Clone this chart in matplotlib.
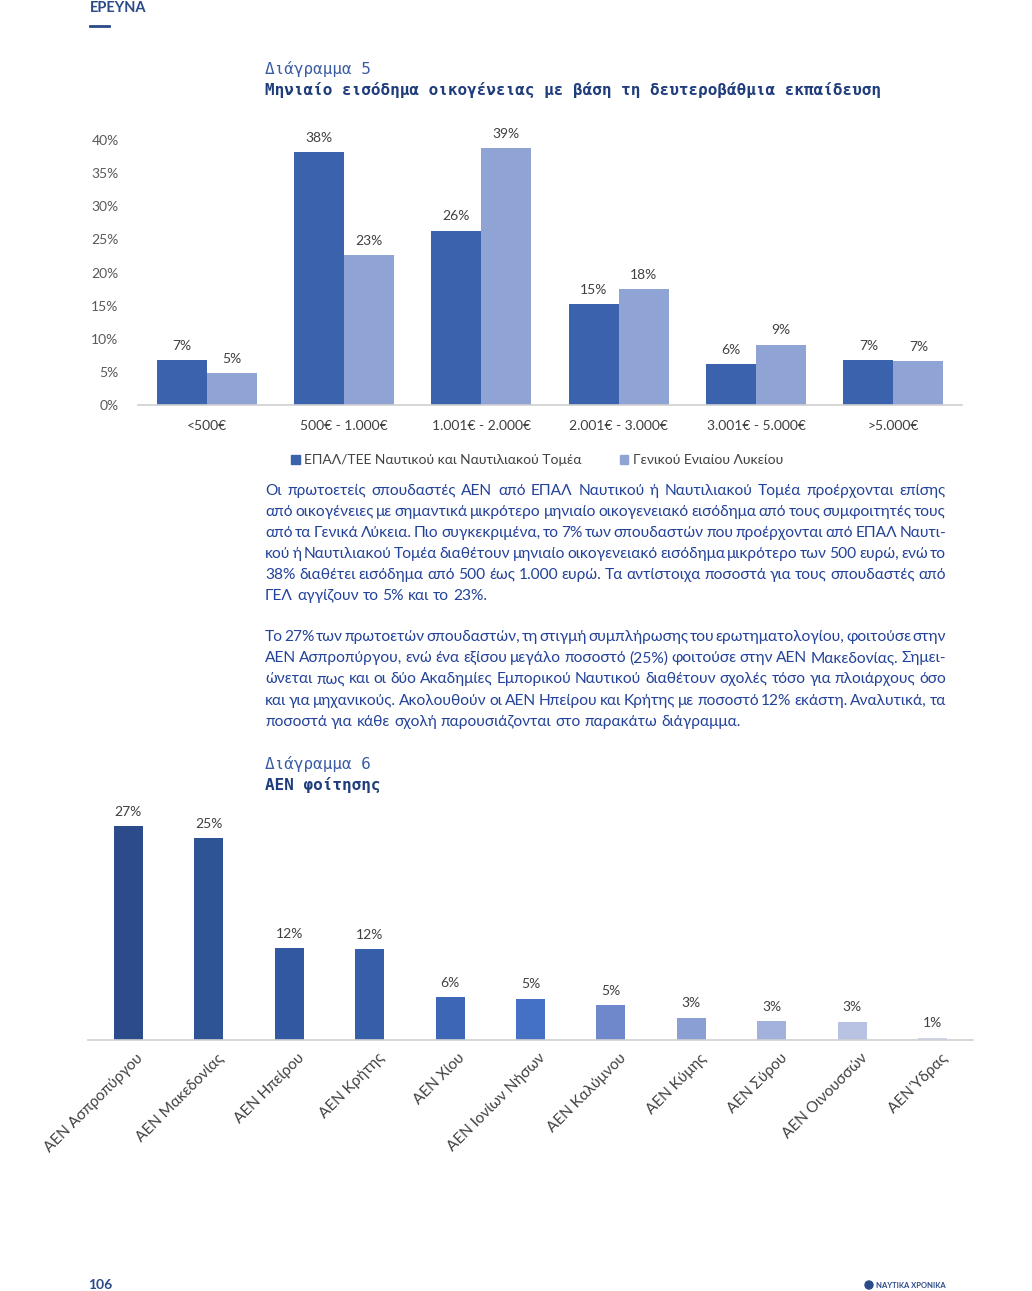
import matplotlib
matplotlib.use('Agg')
import matplotlib.pyplot as plt
from matplotlib.patches import Patch, Circle
from matplotlib.transforms import IdentityTransform
import numpy as np

W, H = 1032, 1291

# --- data: chart 5 (monthly family income by secondary school type)
income_cats = ['<500€', '500€ - 1.000€', '1.001€ - 2.000€', '2.001€ - 3.000€',
               '3.001€ - 5.000€', '>5.000€']
epal = [6.8, 38.2, 26.3, 15.2, 6.2, 6.8]
gel = [4.8, 22.6, 38.8, 17.5, 9.1, 6.6]
epal_labels = ['7%', '38%', '26%', '15%', '6%', '7%']
gel_labels = ['5%', '23%', '39%', '18%', '9%', '7%']
series_names = ['ΕΠΑΛ/ΤΕΕ Ναυτικού και Ναυτιλιακού Τομέα', 'Γενικού Ενιαίου Λυκείου']

# --- data: chart 6 (academy attended)
schools = ['ΑΕΝ Ασπροπύργου', 'ΑΕΝ Μακεδονίας', 'ΑΕΝ Ηπείρου', 'ΑΕΝ Κρήτης', 'ΑΕΝ Χίου',
           'ΑΕΝ Ιονίων Νήσων', 'ΑΕΝ Καλύμνου', 'ΑΕΝ Κύμης', 'ΑΕΝ Σύρου',
           'ΑΕΝ Οινουσσών', 'ΑΕΝ Ύδρας']
school_vals = [27.0, 25.5, 11.6, 11.5, 5.4, 5.2, 4.4, 2.8, 2.4, 2.3, 0.3]
school_labels = ['27%', '25%', '12%', '12%', '6%', '5%', '5%', '3%', '3%', '3%', '1%']
school_colors = ['#2b4b8b', '#2f5496', '#3358a2', '#375ea9', '#3d66b6', '#4471c3',
                 '#6e88cb', '#8a9fd3', '#a2b2dc', '#b8c3e4', '#cdd5ec']

para1 = [
    "Οι πρωτοετείς σπουδαστές ΑΕΝ από ΕΠΑΛ Ναυτικού ή Ναυτιλιακού Τομέα προέρχονται επίσης",
    "από οικογένειες με σημαντικά μικρότερο μηνιαίο οικογενειακό εισόδημα από τους συμφοιτητές τους",
    "από τα Γενικά Λύκεια. Πιο συγκεκριμένα, το 7% των σπουδαστών που προέρχονται από ΕΠΑΛ Ναυτι-",
    "κού ή Ναυτιλιακού Τομέα διαθέτουν μηνιαίο οικογενειακό εισόδημα μικρότερο των 500 ευρώ, ενώ το",
    "38% διαθέτει εισόδημα από 500 έως 1.000 ευρώ. Τα αντίστοιχα ποσοστά για τους σπουδαστές από",
    "ΓΕΛ αγγίζουν το 5% και το 23%.",
]
para2 = [
    "Το 27% των πρωτοετών σπουδαστών, τη στιγμή συμπλήρωσης του ερωτηματολογίου, φοιτούσε στην",
    "ΑΕΝ Ασπροπύργου, ενώ ένα εξίσου μεγάλο ποσοστό (25%) φοιτούσε στην ΑΕΝ Μακεδονίας. Σημει-",
    "ώνεται πως και οι δύο Ακαδημίες Εμπορικού Ναυτικού διαθέτουν σχολές τόσο για πλοιάρχους όσο",
    "και για μηχανικούς. Ακολουθούν οι ΑΕΝ Ηπείρου και Κρήτης με ποσοστό 12% εκάστη. Αναλυτικά, τα",
    "ποσοστά για κάθε σχολή παρουσιάζονται στο παρακάτω διάγραμμα.",
]

SANS = ['Lato', 'DejaVu Sans']
MONO = ['DejaVu Sans Mono']
plt.rcParams['font.family'] = SANS

BLUE_DARK = '#1f3c7c'
BLUE_MID = '#3a5ca3'
TEXT_BLUE = '#23429a'
GRAY = '#404040'
AXIS_GRAY = '#d0d0d0'


def fx(px):
    return px / W


def fy(py):
    return 1 - py / H


fig = plt.figure(figsize=(W / 100, H / 100), dpi=100)

# header / footer
fig.text(fx(90), fy(12), 'ΕΡΕΥΝΑ', fontsize=10.5, fontweight='bold', color='#2a4a8a',
         va='baseline', family=SANS)
fig.add_artist(plt.Line2D([fx(90), fx(109)], [fy(26), fy(26)], color='#2a4a8a', lw=2))
fig.text(fx(88), fy(1285), '106', fontsize=10, fontweight='bold', color='#2a4a8a',
         va='center', family=SANS)
fig.add_artist(Circle((869, H - 1285), 4, color='#2a4a8a', transform=IdentityTransform()))
fig.text(fx(876), fy(1285), 'ΝΑΥΤΙΚΑ ΧΡΟΝΙΚΑ', fontsize=5.5, fontweight='bold',
         color='#2a4a8a', va='center', family=SANS)

# chart titles
fig.text(fx(265), fy(69), 'Διάγραμμα 5', fontsize=11.5, color=BLUE_MID, va='center', family=MONO)
fig.text(fx(265), fy(90), 'Μηνιαίο εισόδημα οικογένειας με βάση τη δευτεροβάθμια εκπαίδευση',
         fontsize=11.5, fontweight='bold', color=BLUE_DARK, va='center', family=MONO)
fig.text(fx(265), fy(764), 'Διάγραμμα 6', fontsize=11.5, color=BLUE_MID, va='center', family=MONO)
fig.text(fx(265), fy(785), 'ΑΕΝ φοίτησης', fontsize=11.5, fontweight='bold', color=BLUE_DARK,
         va='center', family=MONO)

# ---- chart 5
ax1 = fig.add_axes([fx(138), fy(405), (962 - 138) / W, (405 - 140) / H])
x = np.arange(len(income_cats))
bw = 0.364
b1 = ax1.bar(x - bw / 2, epal, bw, color='#3a62ad', label=series_names[0])
b2 = ax1.bar(x + bw / 2, gel, bw, color='#8fa4d4', label=series_names[1])
for bars, labs in ((b1, epal_labels), (b2, gel_labels)):
    for rect, lab in zip(bars, labs):
        ax1.annotate(lab, (rect.get_x() + rect.get_width() / 2, rect.get_height()),
                     xytext=(0, 6), textcoords='offset points', ha='center', va='bottom',
                     fontsize=10, color=GRAY, annotation_clip=False)
ax1.set_xlim(-0.5, len(income_cats) - 0.5)
ax1.set_ylim(0, 40)
ax1.set_yticks(np.arange(0, 41, 5))
ax1.set_yticklabels([f'{v}%' for v in range(0, 41, 5)])
ax1.set_xticks(x)
ax1.set_xticklabels(income_cats)
ax1.tick_params(axis='y', length=0, pad=14, labelsize=10, labelcolor='#595959')
ax1.tick_params(axis='x', length=0, pad=11, labelsize=10, labelcolor=GRAY)
for s in ('top', 'right', 'left'):
    ax1.spines[s].set_visible(False)
ax1.spines['bottom'].set_color(AXIS_GRAY)
ax1.spines['bottom'].set_linewidth(1.2)

fig.legend(handles=[Patch(color='#3a62ad', label=series_names[0]),
                    Patch(color='#8fa4d4', label=series_names[1])],
           loc='center', bbox_to_anchor=(fx(537), fy(460)), ncol=2, frameon=False,
           handlelength=0.6, handleheight=0.6, handletextpad=0.3, columnspacing=2.8,
           fontsize=10, labelcolor=GRAY)

# ---- paragraphs (justified)
renderer = fig.canvas.get_renderer()
PFS = 11.2
space_w = None


def justify(lines, y_start, step, x0=265, x1=946):
    global space_w
    for i, line in enumerate(lines):
        words = line.split(' ')
        ts = [fig.text(0, 0, w, fontsize=PFS, color=TEXT_BLUE, va='center', family=SANS)
              for w in words]
        widths = [t.get_window_extent(renderer).width for t in ts]
        if space_w is None:
            a = fig.text(0, 0, 'a a', fontsize=PFS, family=SANS)
            b = fig.text(0, 0, 'aa', fontsize=PFS, family=SANS)
            space_w = a.get_window_extent(renderer).width - b.get_window_extent(renderer).width
            a.remove()
            b.remove()
        if i == len(lines) - 1 or len(words) == 1:
            gap = space_w
        else:
            gap = (x1 - x0 - sum(widths)) / (len(words) - 1)
        xp = x0
        y = y_start + i * step
        for t, wd in zip(ts, widths):
            t.set_position((fx(xp), fy(y)))
            xp += wd + gap


justify(para1, 491, 21)
justify(para2, 637, 21.2)

# ---- chart 6
ax2 = fig.add_axes([fx(88), fy(1040), (973 - 88) / W, (1040 - 826) / H])
x2 = np.arange(len(schools))
bars = ax2.bar(x2, school_vals, 0.36, color=school_colors)
for rect, lab in zip(bars, school_labels):
    ax2.annotate(lab, (rect.get_x() + rect.get_width() / 2, rect.get_height()),
                 xytext=(0, 6), textcoords='offset points', ha='center', va='bottom',
                 fontsize=10, color=GRAY, annotation_clip=False)
ax2.set_xlim(-0.5, len(schools) - 0.5)
ax2.set_ylim(0, 27)
ax2.set_yticks([])
ax2.set_xticks(x2 + 0.1)
ax2.set_xticklabels(schools, rotation=45, ha='right', rotation_mode='anchor')
ax2.tick_params(axis='x', length=0, pad=8, labelsize=11, labelcolor=GRAY)
for s in ('top', 'right', 'left'):
    ax2.spines[s].set_visible(False)
ax2.spines['bottom'].set_color(AXIS_GRAY)
ax2.spines['bottom'].set_linewidth(1.2)

fig.savefig('out.png', dpi=100)
